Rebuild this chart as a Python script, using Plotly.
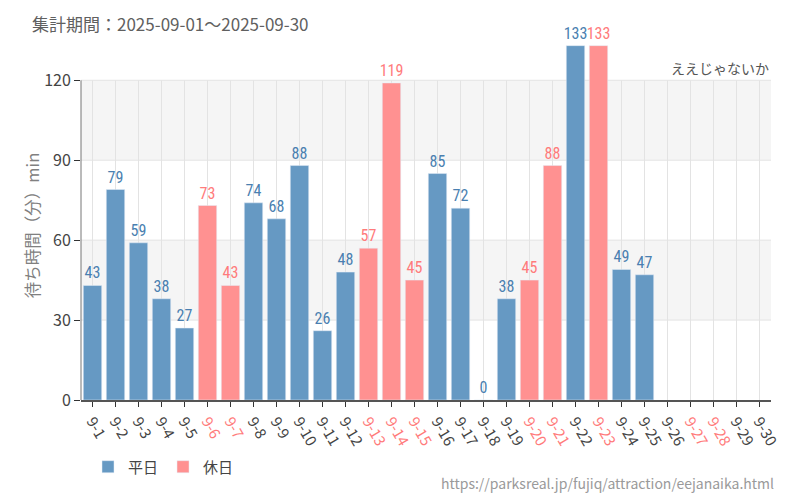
import plotly.graph_objects as go

dates = [f"9-{d}" for d in range(1, 31)]
weekday_vals = [43, 79, 59, 38, 27, None, None, 74, 68, 88, 26, 48, None, None, None,
                85, 72, 0, 38, None, None, 133, None, 49, 47, None, None, None, None, None]
holiday_vals = [None, None, None, None, None, 73, 43, None, None, None, None, None, 57, 119, 45,
                None, None, None, None, 45, 88, None, 133, None, None, None, None, None, None, None]
holiday_dates = ["9-6", "9-7", "9-13", "9-14", "9-15", "9-20", "9-21", "9-23", "9-27", "9-28"]
y_ticks = [0, 30, 60, 90, 120]
y_max_grid = 120
y_range_top = 140

BLUE_BAR = "#6699c3"
BLUE_TXT = "#4a7fb0"
PINK_BAR = "#ff9191"
PINK_TXT = "#ff7b7b"
LABEL_FONT = "Roboto, sans-serif"

ticktext = [f'<span style="color:{PINK_TXT}">{d}</span>' if d in holiday_dates else d for d in dates]

def labels(vals):
    return [("" if v is None else f'<span style="font-stretch:75%">{v}</span>') for v in vals]

fig = go.Figure()
fig.add_trace(go.Bar(
    x=dates, y=weekday_vals, name="平日", marker_color=BLUE_BAR,
    text=labels(weekday_vals), textposition="outside",
    textfont=dict(color=BLUE_TXT, size=16, family=LABEL_FONT),
    cliponaxis=False, constraintext="none",
))
fig.add_trace(go.Bar(
    x=dates, y=holiday_vals, name="休日", marker_color=PINK_BAR,
    text=labels(holiday_vals), textposition="outside",
    textfont=dict(color=PINK_TXT, size=16, family=LABEL_FONT),
    cliponaxis=False, constraintext="none",
))

shapes = []
for lo, hi in [(30, 60), (90, 120)]:
    shapes.append(dict(type="rect", xref="paper", yref="y", x0=0, x1=1, y0=lo, y1=hi,
                       fillcolor="#f5f5f5", line=dict(width=0), layer="below"))
for yv in y_ticks[1:]:
    shapes.append(dict(type="line", xref="paper", yref="y", x0=0, x1=1, y0=yv, y1=yv,
                       line=dict(color="#e3e3e3", width=1), layer="below"))
for d in dates:
    shapes.append(dict(type="line", xref="x", yref="y", x0=d, x1=d, y0=0, y1=y_max_grid,
                       line=dict(color="#e3e3e3", width=1), layer="below"))
shapes.append(dict(type="line", xref="paper", yref="y", x0=0, x1=0, y0=0, y1=y_max_grid,
                   line=dict(color="#777777", width=1)))

# plot: y=120 at 80px, y=0 at 400px
px_per_unit = 320 / 120
top_margin = 400 - y_range_top * px_per_unit
plot_h = 400 - top_margin

def py(p):
    return (400 - p) / plot_h

def pxx(p):
    return (p - 81) / 690

fig.update_layout(
    width=800, height=500,
    margin=dict(l=81, r=29, t=top_margin, b=100, autoexpand=False),
    plot_bgcolor="white", paper_bgcolor="white",
    font=dict(family="Noto Sans CJK JP, Noto Sans", color="#555555"),
    barmode="overlay", bargap=0.2,
    shapes=shapes,
    showlegend=True,
    xaxis=dict(
        type="category", tickmode="array", tickvals=dates, ticktext=ticktext,
        tickangle=60, tickfont=dict(size=15, color="#444444"),
        showline=True, linecolor="#555555", linewidth=1.5,
        ticks="outside", ticklen=5, tickcolor="#333333",
        showgrid=False,
    ),
    yaxis=dict(
        range=[0, y_range_top], tickmode="array", tickvals=y_ticks,
        tickfont=dict(size=16, color="#444444"),
        showline=False, ticks="outside", ticklen=6, tickcolor="#333333",
        showgrid=False, zeroline=False,
    ),
    legend=dict(orientation="h", x=pxx(88), xanchor="left", y=py(467), yanchor="middle",
                font=dict(size=15, color="#444444"), traceorder="normal"),
    annotations=[
        dict(text="集計期間：2025-09-01～2025-09-30", xref="paper", yref="paper",
             x=pxx(30), y=py(23), xanchor="left", yanchor="middle", showarrow=False,
             font=dict(size=17, color="#606060")),
        dict(text="待ち時間（分）min", xref="paper", yref="paper", x=pxx(32), y=py(226),
             xanchor="center", yanchor="middle", showarrow=False, textangle=-90,
             font=dict(size=16.5, color="#808080")),
        dict(text="ええじゃないか", xref="paper", yref="y", x=1, y=y_max_grid, xanchor="right",
             yanchor="bottom", showarrow=False, font=dict(size=14, color="#555555")),
        dict(text="https://parksreal.jp/fujiq/attraction/eejanaika.html", xref="paper", yref="paper",
             x=pxx(776), y=py(483), xanchor="right", yanchor="middle", showarrow=False,
             font=dict(size=14, color="#9a9a9a")),
    ],
)

fig.write_html("out.html", config={"displayModeBar": False},
               post_script="document.body.style.margin='0';")
